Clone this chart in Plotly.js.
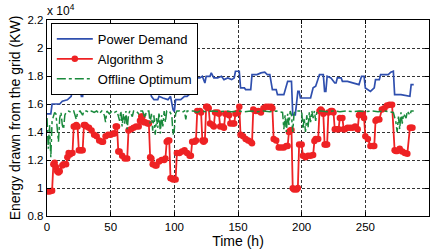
<!DOCTYPE html>
<html><head><meta charset="utf-8">
<script src="https://cdn.plot.ly/plotly-3.0.1.min.js"></script>
<style>html,body{margin:0;padding:0;background:#fff}#chart{width:438px;height:252px}</style>
</head><body><div id="chart"></div>
<script>
// Power demand (KW), hours
const demandHours = [0,3,4,10,12,16,19,21,25,27,28,29,32,35,37,40,42,45,48,50,53,55,58,62,64,66,69,71,74,75,77,79,80,82,84,87,88,91,95,97,99,100,101,105,108,110,113,116,117,120,122,124,125,128,129,131,134,137,139,142,145,147,148,151,152,155,156,160,161,165,168,171,173,175,177,180,181,186,189,192,193,195,197,198,199,207,209,211,214,217,218,219,220,223,226,227,228,231,232,236,244,245,247,249,250,252,254,257,258,261,262,268,270,272,273,278,285,286,288];
const demandKW = [15300,15300,16000,16000,16200,16300,16550,17620,17620,16550,16550,17700,17400,17380,17270,17150,17030,17150,17220,17300,17450,17500,17030,17030,17620,17740,17620,17740,17860,17980,17740,17620,17500,16550,16310,16310,16550,16430,16310,16550,15590,15470,16310,16310,16550,16550,16790,16900,17860,17860,17980,17500,17980,17980,18220,17860,17860,17980,17740,17860,17740,17860,18340,18340,17150,17150,17030,17030,18100,18100,18220,18270,18100,18100,17030,17030,16670,16670,17620,17620,15230,15230,16900,16900,16430,16430,17150,17270,18100,18100,16900,16900,17980,17860,17500,17500,17860,17860,17620,17620,17380,17380,17980,17980,17150,17030,16900,17150,17740,17740,18100,18100,18270,18340,16670,16670,16550,17380,17380];

// Algorithm 3 (KW)
const algHours = [0,2,4,5,6,7,8,9,10,12,13,15,16,17,18,20,21,22,23,24,25,26,27,28,29,30,31,33,35,37,39,41,43,44,46,48,50,52,53,54,55,56,57,59,61,63,64,66,68,70,72,73,74,75,76,77,79,80,81,82,83,85,86,88,90,92,93,94,95,96,97,98,99,101,102,104,106,108,110,112,113,114,116,117,118,120,121,122,123,124,125,126,127,128,130,131,132,134,135,136,138,139,140,142,143,144,146,147,148,150,151,152,154,156,158,160,161,162,164,166,168,170,172,174,176,177,178,180,182,184,186,188,189,190,191,192,193,194,196,197,198,200,201,203,205,207,209,210,211,213,214,215,216,217,218,219,220,221,223,224,225,226,228,229,230,232,233,234,236,238,240,242,244,245,246,248,249,250,252,254,256,257,258,259,261,263,265,267,269,271,273,274,275,277,279,281,283,285,286,287,288];
const algKW = [9750,9750,9800,11700,11800,11500,11200,11100,11200,11600,11700,11700,12200,12500,12400,12500,14400,14400,14500,14400,12700,12700,12700,12700,14500,14500,14400,14300,14100,13800,13700,13400,13300,13300,13700,13800,13800,13900,13900,14400,14400,12600,12600,12300,12100,12100,14100,14200,14300,14400,14400,14800,15100,15100,14700,14700,14600,14600,12200,12100,11700,11600,11600,11900,12000,12000,12100,13300,13400,13400,10700,10700,10600,10600,12500,12500,12600,12700,12500,12300,12300,13300,13300,13400,15500,15500,15400,13400,13300,13400,15800,15800,15700,14600,14500,14400,15400,15400,15300,14400,14400,14300,15300,15300,15200,14600,14600,14600,15300,15400,15800,13800,13700,13500,13400,13300,13200,15600,15500,15500,15400,15700,15800,15800,15800,15700,13500,13400,12900,12900,12900,13000,13000,14000,14100,14150,9980,9900,9900,10000,13100,13100,12300,12200,12300,12300,12350,13350,13500,13500,15500,15600,15500,15300,13100,13100,13100,15400,15500,15500,15400,14200,14200,14200,15000,15000,14200,14200,14300,14300,14300,14400,14200,15200,15300,15300,15000,13700,13500,13000,13000,13000,14800,14900,14900,15600,15700,15900,15950,15950,12700,12650,12650,12800,12600,12500,12450,14300,14300,14300];

// Offline optimum (KW)
const optHours = [0,1,2,3,4,5,6,7,8,9,10,11,12,13,14,15,17,19,21,23,24,26,28,29,31,33,35,37,39,41,43,45,46,47,49,51,53,55,57,58,59,60,61,62,63,64,65,67,68,70,72,73,75,77,78,80,81,82,83,84,85,86,87,88,89,90,91,92,93,94,96,98,99,100,101,102,104,106,108,109,110,112,115,118,120,125,130,135,140,145,150,155,160,165,170,175,180,185,186,187,188,189,190,191,192,193,194,195,200,201,202,203,204,205,206,207,208,209,210,211,212,215,220,225,230,235,240,245,250,255,260,265,270,272,274,275,276,277,278,279,280,282,283,285,286,288];
const optKW = [15000,12800,14500,12200,14800,15200,15400,15300,14000,13300,15000,15400,14500,14200,15200,15400,15500,15400,15500,14900,15400,15500,15200,15500,15500,15400,15500,15400,15500,15300,15500,15200,14700,15500,15300,15500,15400,15500,14800,15500,14400,15300,14600,15500,14200,15200,15500,15100,15500,15500,15300,15500,15500,15000,15500,15500,14600,15300,14100,15200,13800,15000,14300,15400,13900,15200,14400,15500,14700,15500,15500,15200,13800,14200,15300,15500,15500,15400,15500,14900,15500,15500,15500,15400,15500,15450,15500,15450,15500,15450,15500,15450,15500,15450,15500,15450,15500,15400,14200,15200,14000,15300,14500,15500,15200,14000,15300,15500,15500,14200,15000,14000,15200,14300,15400,14700,15500,15000,15500,14800,15500,15500,15450,15500,15450,15500,15450,15500,15450,15500,15450,15500,15450,15400,14700,14000,15100,14200,15400,14600,15300,15000,15500,15200,15500,15500];

const yTicks = [8000,10000,12000,14000,16000,18000,20000,22000];
const yTickText = ['0.8','1','1.2','1.4','1.6','1.8','2','2.2'];
const xTicks = [0,50,100,150,200,250,300];

const fam = 'Liberation Sans, Arial, Helvetica, sans-serif';
const tickFont = {family: fam, size: 11.5, color: '#000'};
const titleFont = {family: fam, size: 14, color: '#000'};

const traces = [
  {x: demandHours, y: demandKW, name: 'Power Demand', mode: 'lines',
   line: {color: '#2f4fae', width: 1.7}},
  {x: algHours, y: algKW, name: 'Algorithm 3', mode: 'lines+markers',
   line: {color: '#ee2224', width: 1.8}, marker: {color: '#ee2224', size: 6.5, symbol: 'circle'}},
  {x: optHours, y: optKW, name: 'Offline Optimum', mode: 'lines',
   line: {color: '#1a8a3c', width: 1.5, dash: 'dashdot'}}
];

const axisCommon = {
  showline: true, linecolor: '#000', linewidth: 1.3, mirror: 'ticks',
  ticks: 'inside', ticklen: 4, tickcolor: '#000', tickwidth: 1,
  showgrid: true, gridcolor: '#333', griddash: '3px,2px', gridwidth: 1,
  zeroline: false, tickfont: tickFont
};

const layout = {
  width: 438, height: 252,
  margin: {l: 47, r: 9, t: 20, b: 36},
  paper_bgcolor: '#fff', plot_bgcolor: '#fff',
  font: tickFont,
  showlegend: true,
  legend: {x: 0.01, y: 0.985, xanchor: 'left', yanchor: 'top',
           bordercolor: '#000', borderwidth: 1, bgcolor: '#fff',
           font: {family: fam, size: 13, color: '#000'},
           tracegroupgap: 0, itemwidth: 36},
  xaxis: Object.assign({}, axisCommon, {range: [0, 300], tickvals: xTicks,
    title: {text: 'Time (h)', font: titleFont, standoff: 1}}),
  yaxis: Object.assign({}, axisCommon, {range: [8000, 22000], tickvals: yTicks, ticktext: yTickText,
    title: {text: 'Energy drawn from the grid (KW)', font: titleFont, standoff: 3}}),
  annotations: [{xref: 'paper', yref: 'paper', x: -0.005, y: 1, xanchor: 'left', yanchor: 'bottom',
    text: 'x 10<sup>4</sup>', showarrow: false, font: {family: fam, size: 12, color: '#000'}}]
};

Plotly.newPlot('chart', traces, layout, {displayModeBar: false, staticPlot: true});
</script></body></html>
